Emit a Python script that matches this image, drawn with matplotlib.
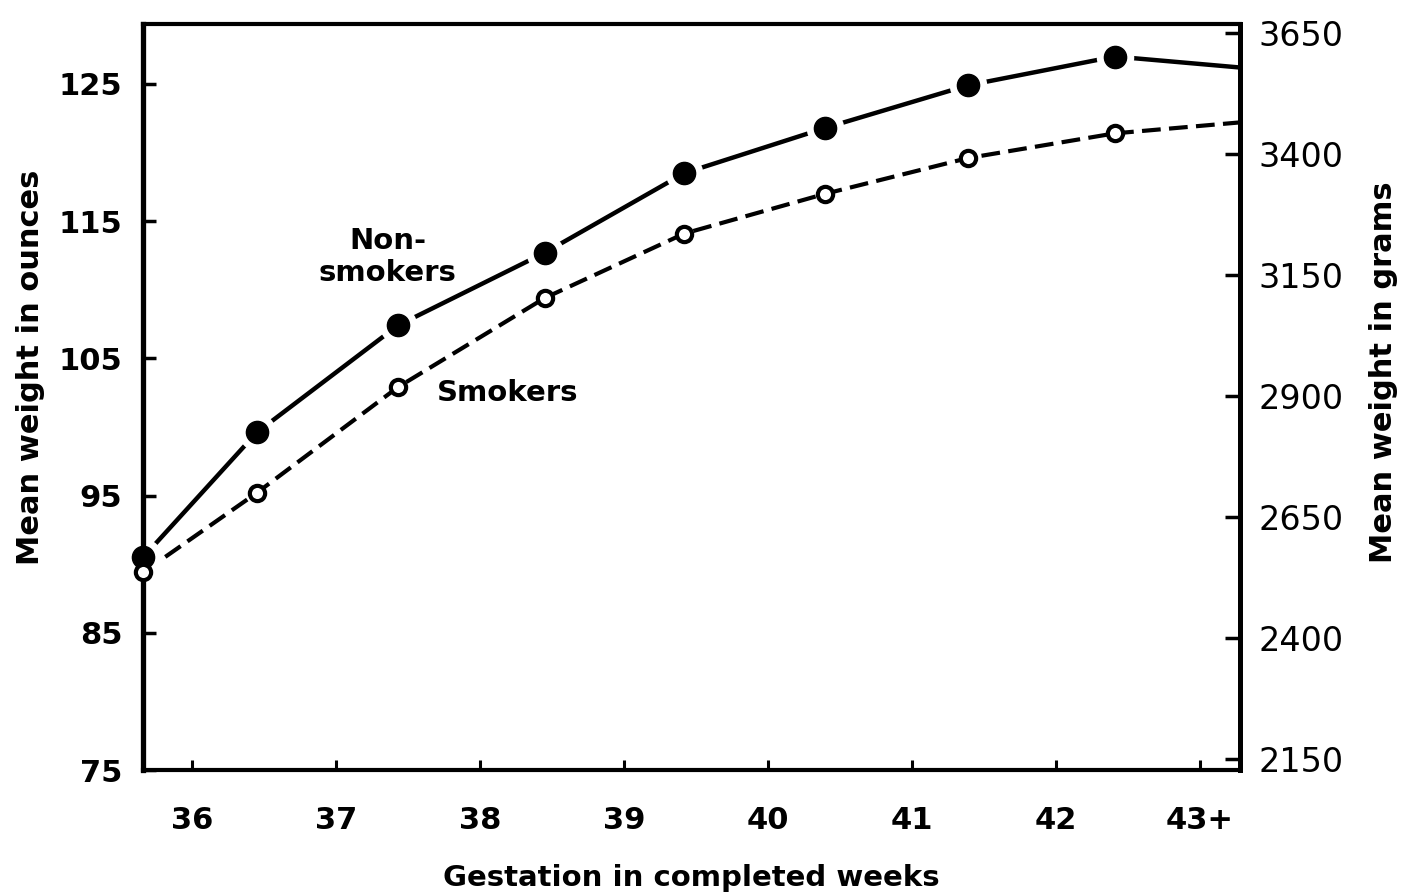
import numpy as np
import matplotlib
matplotlib.use("Agg")
import matplotlib.pyplot as plt

##### DATA #####
weeks = [35.66, 36.45, 37.43, 38.45, 39.42, 40.40, 41.39, 42.41, 43.28]
non_smokers = [90.5, 99.6, 107.4, 112.7, 118.5, 121.8, 124.9, 127.0, 126.2]
smokers = [89.4, 95.2, 102.9, 109.4, 114.1, 117.0, 119.6, 121.4, 122.2]
# the last value is where the line meets the right frame, no marker there
n_markers = 8

week_ticks = [36, 37, 38, 39, 40, 41, 42, 43]
week_labels = ["36", "37", "38", "39", "40", "41", "42", "43+"]
oz_ticks = [75, 85, 95, 105, 115, 125]
g_ticks = [2150, 2400, 2650, 2900, 3150, 3400, 3650]
G_PER_OZ = 28.35

plt.rcParams['font.family'] = ['DejaVu Sans']

fig = plt.figure(figsize=(14.04, 8.96), dpi=100)
ax = fig.add_axes([0.1019, 0.1406, 0.7813, 0.8326])

# non-smokers: solid line, filled dots with small white halo so line breaks at dots
ax.plot(weeks, non_smokers, color='black', lw=3.2, solid_capstyle='butt', zorder=2, clip_on=False)
ax.plot(weeks[:n_markers], non_smokers[:n_markers], 'o', ms=27, mfc='white', mec='none',
        zorder=2.2, clip_on=False)
ax.plot(weeks[:n_markers], non_smokers[:n_markers], 'o', ms=16, mfc='black', mec='black',
        zorder=3, clip_on=False)

# smokers: dashed line with open circles
ln, = ax.plot(weeks, smokers, color='black', lw=3.0, zorder=2, clip_on=False)
ln.set_dashes((4.5, 2.0))
ax.plot(weeks[:n_markers], smokers[:n_markers], 'o', ms=11, mfc='white', mec='black',
        mew=3.0, zorder=3, clip_on=False)

ax.text(37.36, 112.4, "Non-\nsmokers", ha='center', va='center', fontsize=21,
        fontweight='bold', linespacing=1.15)
ax.text(37.70, 102.5, "Smokers", ha='left', va='center', fontsize=21, fontweight='bold')

ax.set_xlim(35.66, 43.28)
ax.set_ylim(75, 129.37)

ax.set_xticks(week_ticks)
ax.set_xticklabels(week_labels, fontsize=22, fontweight='bold')
ax.set_yticks(oz_ticks)
ax.set_yticklabels([str(v) for v in oz_ticks], fontsize=22, fontweight='bold')
ax.tick_params(axis='x', direction='in', length=7, width=2.2, pad=26)
ax.tick_params(axis='y', direction='in', length=9, width=2.5, pad=15)
ax.tick_params(right=False)

for side, lw in [('left', 3.8), ('bottom', 3.0), ('top', 3.0), ('right', 3.6)]:
    ax.spines[side].set_linewidth(lw)

sec = ax.secondary_yaxis('right', functions=(lambda x: x * G_PER_OZ, lambda x: x / G_PER_OZ))
sec.set_yticks(g_ticks)
sec.set_yticklabels([str(v) for v in g_ticks], fontsize=24)
sec.tick_params(direction='in', length=11, width=2.5, pad=13)
sec.spines['right'].set_linewidth(3.6)

# axis titles placed in figure fractions
fig.text(691 / 1404, 1 - 878 / 896, "Gestation in completed weeks", ha='center', va='center',
         fontsize=21, fontweight='bold')
fig.text(31 / 1404, 1 - 367 / 896, "Mean weight in ounces", ha='center', va='center',
         rotation=90, fontsize=22, fontweight='bold')
fig.text(1384 / 1404, 1 - 372 / 896, "Mean weight in grams", ha='center', va='center',
         rotation=90, fontsize=22, fontweight='bold')

fig.savefig('out.png', dpi=100)
